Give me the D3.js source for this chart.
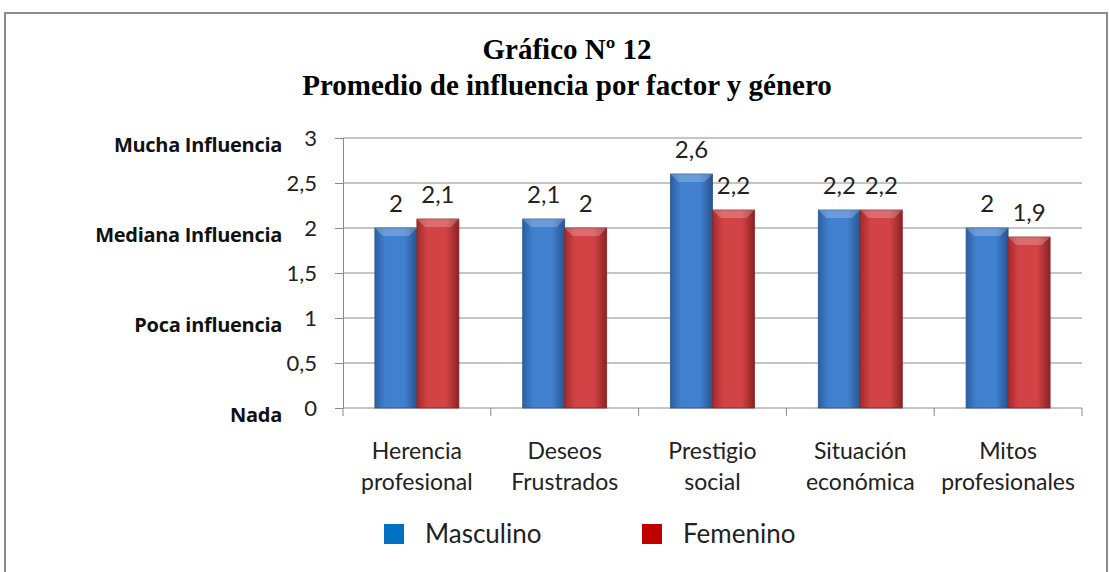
<!DOCTYPE html>
<html lang="es">
<head>
<meta charset="UTF-8">
<title>Gráfico Nº 12</title>
<script src="https://cdnjs.cloudflare.com/ajax/libs/d3/7.8.5/d3.min.js"></script>
<style>
  html, body { margin: 0; padding: 0; background: #fff; }
  svg { display: block; }
</style>
</head>
<body>
<div id="chart"></div>
<script>
// datos
const factores = [["Herencia", "profesional"], ["Deseos", "Frustrados"], ["Prestigio", "social"], ["Situación", "económica"], ["Mitos", "profesionales"]];
const series = ["Masculino", "Femenino"];
const masculino = [2, 2.1, 2.6, 2.2, 2];
const femenino = [2.1, 2, 2.2, 2.2, 1.9];
const yTicks = [0, 0.5, 1, 1.5, 2, 2.5, 3];
const nivelEtiquetas = [[3, "Mucha Influencia"], [2, "Mediana Influencia"], [1, "Poca influencia"], [0, "Nada"]];

const W = 1110, H = 572;
const m = { left: 343, right: 1082, top: 138, bottom: 408 };
const colores = { Masculino: ["#2c5fa3", "#4180cf", "#27548f"], Femenino: ["#a22a2c", "#d24345", "#8a2224"] };
const legendColores = { Masculino: "#0070c0", Femenino: "#c00000" };
const fmt = v => String(v).replace(".", ",");

const svg = d3.select("#chart").append("svg").attr("width", W).attr("height", H);

// marco
svg.append("rect").attr("x", 5).attr("y", 13).attr("width", 1102).attr("height", 600)
  .attr("fill", "#fff").attr("stroke", "#8c8c8c").attr("stroke-width", 2);

// gradientes de barras
const defs = svg.append("defs");
series.forEach(s => {
  const g = defs.append("linearGradient").attr("id", "g-" + s).attr("x1", 0).attr("x2", 1).attr("y1", 0).attr("y2", 0);
  g.append("stop").attr("offset", "0%").attr("stop-color", colores[s][0]);
  g.append("stop").attr("offset", "25%").attr("stop-color", colores[s][1]);
  g.append("stop").attr("offset", "70%").attr("stop-color", colores[s][1]);
  g.append("stop").attr("offset", "100%").attr("stop-color", colores[s][2]);
});

// titulo
const title = svg.append("text").attr("text-anchor", "middle")
  .attr("font-family", "'Liberation Serif', 'Times New Roman', serif")
  .attr("font-weight", "bold").attr("font-size", 29).attr("fill", "#000");
title.append("tspan").attr("x", 567).attr("y", 59).text("Gráfico Nº 12");
title.append("tspan").attr("x", 567).attr("y", 95).text("Promedio de influencia por factor y género");

// escalas
const y = d3.scaleLinear().domain([0, 3]).range([m.bottom, m.top]);
const x0 = d3.scaleBand().domain(d3.range(factores.length)).range([m.left, m.right]);
const x1 = d3.scaleBand().domain(series).range([0, x0.bandwidth()]).paddingInner(0).paddingOuter(0.76);
const font = "Lato, 'Open Sans', sans-serif";

// rejilla
svg.append("g").selectAll("line").data(yTicks.filter(d => d > 0)).join("line")
  .attr("x1", m.left).attr("x2", m.right).attr("y1", d => y(d)).attr("y2", d => y(d))
  .attr("stroke", "#8a8a8a").attr("stroke-width", 1);

// eje y
const yAxis = svg.append("g").attr("transform", `translate(${m.left},0)`)
  .call(d3.axisLeft(y).tickValues(yTicks).tickSize(8).tickPadding(18).tickFormat(fmt));
yAxis.select(".domain").attr("stroke", "#8a8a8a");
yAxis.selectAll(".tick line").attr("stroke", "#8a8a8a");
yAxis.selectAll(".tick text").attr("font-family", font).attr("font-size", 22).attr("fill", "#222");

// etiquetas de nivel
svg.append("g").selectAll("text").data(nivelEtiquetas).join("text")
  .attr("x", 282).attr("y", d => y(d[0]) + 7).attr("dy", "0.35em").attr("text-anchor", "end")
  .attr("font-family", "'Open Sans', sans-serif").attr("font-weight", "bold").attr("font-size", 20)
  .attr("letter-spacing", -0.3).attr("fill", "#111").text(d => d[1]);

// eje x
const xAxis = svg.append("g").attr("transform", `translate(0,${m.bottom})`);
xAxis.append("line").attr("x1", m.left).attr("x2", m.right).attr("stroke", "#8a8a8a");
xAxis.selectAll(".tk").data(d3.range(factores.length + 1)).join("line").attr("class", "tk")
  .attr("x1", i => m.left + i * x0.step()).attr("x2", i => m.left + i * x0.step())
  .attr("y1", 0).attr("y2", 8).attr("stroke", "#8a8a8a");
const cat = xAxis.selectAll(".cat").data(factores).join("text").attr("class", "cat")
  .attr("text-anchor", "middle").attr("font-family", font).attr("font-size", 23).attr("fill", "#222");
cat.each(function (d, i) {
  const t = d3.select(this);
  d.forEach((line, k) => t.append("tspan").attr("x", x0(i) + x0.bandwidth() / 2).attr("y", 51 + k * 31).text(line));
});

// barras
const datos = factores.map((f, i) => ({ i, vals: [{ s: "Masculino", v: masculino[i] }, { s: "Femenino", v: femenino[i] }] }));
const grupos = svg.append("g").selectAll("g").data(datos).join("g")
  .attr("transform", d => `translate(${x0(d.i)},0)`);
grupos.selectAll("rect").data(d => d.vals).join("rect")
  .attr("x", d => x1(d.s)).attr("width", x1.bandwidth())
  .attr("y", d => y(d.v)).attr("height", d => y(0) - y(d.v))
  .attr("fill", d => `url(#g-${d.s})`).attr("stroke", d => colores[d.s][2]).attr("stroke-width", 0.8);
// bisel superior
grupos.selectAll("path.bev").data(d => d.vals).join("path").attr("class", "bev")
  .attr("d", d => {
    const xa = x1(d.s), xb = xa + x1.bandwidth(), yt = y(d.v);
    return `M${xa},${yt}L${xb},${yt}L${xb - 8},${yt + 8}L${xa + 8},${yt + 8}Z`;
  })
  .attr("fill", "#fff").attr("opacity", 0.22);
grupos.selectAll("text").data(d => d.vals).join("text")
  .attr("x", d => x1(d.s) + x1.bandwidth() / 2).attr("y", d => y(d.v) - 16)
  .attr("text-anchor", "middle").attr("font-family", font).attr("font-size", 24).attr("fill", "#222")
  .text(d => fmt(d.v));

// leyenda
const leg = svg.append("g").selectAll("g").data(series).join("g")
  .attr("transform", (d, i) => `translate(${384 + i * 258},524)`);
leg.append("rect").attr("width", 20).attr("height", 20).attr("fill", d => legendColores[d]);
leg.append("text").attr("x", 41).attr("y", 10).attr("dy", "0.35em")
  .attr("font-family", font).attr("font-size", 26).attr("fill", "#222").text(d => d);
</script>
</body>
</html>
